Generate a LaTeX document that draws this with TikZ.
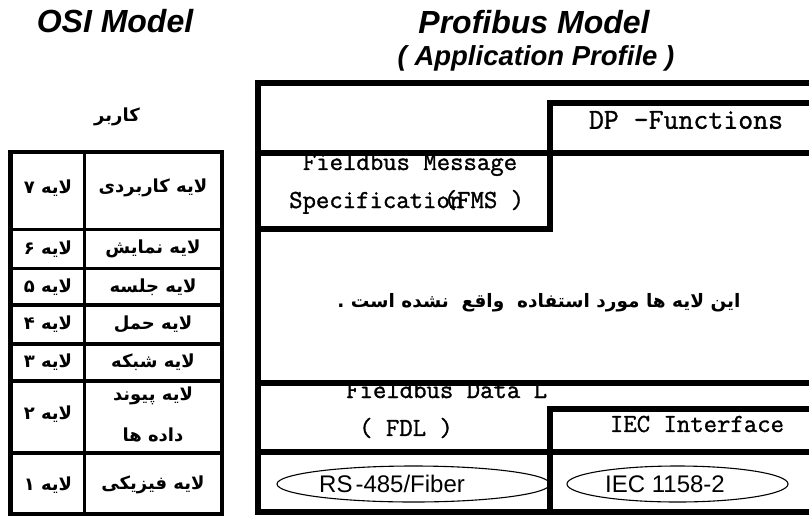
\documentclass[tikz,border=0pt]{standalone}
\usepackage{fontspec}
\setmainfont{Liberation Sans}
\newfontfamily\cour[RawFeature={embolden=1.2}]{Latin Modern Mono}
\newfontfamily\fa[Script=Arabic]{DejaVu Sans}
\TeXXeTstate=1
\usetikzlibrary{shapes.geometric}

\begin{document}
\begin{tikzpicture}[x=1pt,y=-1pt,
  title/.style={font=\bfseries\itshape\fontsize{32}{36}\selectfont, inner sep=0pt},
  subtitle/.style={font=\bfseries\itshape\fontsize{27.5}{30}\selectfont, inner sep=0pt},
  fatext/.style={font=\fa\bfseries\fontsize{18}{22}\selectfont, inner sep=0pt},
  mono/.style={font=\cour\fontsize{26}{30}\selectfont, inner sep=0pt},
  phystext/.style={font=\fontsize{24}{28}\selectfont, inner sep=0pt},
  osiouter/.style={line width=4.5pt},
  osiinner/.style={line width=3.5pt},
  frameline/.style={line width=6pt, line cap=rect},
  medium/.style={ellipse, draw, line width=1.1pt, inner sep=0pt, minimum height=36pt}
]
\useasboundingbox (0,0) rectangle (809,515);

% ---------- titles ----------
\node[title] (osititle) at (115,21) {OSI Model};
\node[title] (pbtitle) at (534,22) {Profibus Model};
\node[subtitle] (pbsub) at (536,58) {( Application Profile )};

% ---------- OSI layer table ----------
\node[fatext] (user) at (117,117) {\beginR کاربر\endR};

\draw[osiinner] (84.5,152) -- (84.5,514);
\foreach \yy in {229.5,268.5,305,344,381,453}
  \draw[osiinner] (10.5,\yy) -- (222,\yy);
\draw[osiouter] (10.5,152) rectangle (222,514);

\node[fatext] (n7) at (48,188) {\beginR لایه ۷\endR};
\node[fatext] (n6) at (48,249) {\beginR لایه ۶\endR};
\node[fatext] (n5) at (48,287) {\beginR لایه ۵\endR};
\node[fatext] (n4) at (48,324) {\beginR لایه ۴\endR};
\node[fatext] (n3) at (48,362) {\beginR لایه ۳\endR};
\node[fatext] (n2) at (48,414) {\beginR لایه ۲\endR};
\node[fatext] (n1) at (48,485) {\beginR لایه ۱\endR};

\node[fatext] (l7) at (153,188) {\beginR لایه کاربردی\endR};
\node[fatext] (l6) at (153,249) {\beginR لایه نمایش\endR};
\node[fatext] (l5) at (153,287) {\beginR لایه جلسه\endR};
\node[fatext] (l4) at (153,324) {\beginR لایه حمل\endR};
\node[fatext] (l3) at (153,362) {\beginR لایه شبکه\endR};
\node[fatext] (l2a) at (153,396) {\beginR لایه پیوند\endR};
\node[fatext] (l2b) at (153,435) {\beginR داده ها\endR};
\node[fatext] (l1) at (153,485) {\beginR لایه فیزیکی\endR};

% ---------- Profibus stack ----------
\begin{scope}
  \clip (260,386) rectangle (548,450);
  \node[mono, anchor=base west] (fdl1) at (346,398) {Fieldbus Data L};
\end{scope}

% outer frame (open to the right)
\draw[line width=6pt, line join=miter] (815,82.5) -- (257.5,82.5) -- (257.5,512) -- (815,512);
% DP functions box and FMS box
\draw[frameline] (815,102.5) -- (550,102.5) -- (550,229);
\draw[frameline] (257.5,152.5) -- (815,152.5);
\draw[frameline] (257.5,229) -- (550,229);
% data link layer and IEC interface
\draw[frameline] (257.5,383) -- (815,383);
\draw[frameline] (815,409) -- (550,409) -- (550,512);
\draw[frameline] (257.5,452) -- (815,452);

\node[mono, font=\cour\fontsize{29}{32}\selectfont] (dp) at (686,120) {DP -Functions};
\node[mono] (fms1) at (410,165) {Fieldbus Message};
\node[mono, anchor=base west] (fms2) at (289,208) {Specification\kern-19.5pt(FMS )};

\node[fatext, font=\fa\bfseries\fontsize{18.5}{22}\selectfont] (unused) at (539,303)
  {\beginR این لایه ها مورد استفاده\ \ واقع\ \ نشده است .\endR};

\node[mono] (fdl2) at (406,428) {( FDL )};
\node[mono] (iecif) at (697,424) {IEC Interface};

% physical media
\node[medium, minimum width=273pt] (rs) at (413.5,484) {};
\node[medium, minimum width=221pt] (iec) at (677.5,484) {};
\node[phystext, anchor=west] (rstext) at (319,484) {RS\kern3pt-485/Fiber};
\node[phystext, anchor=west] (iectext) at (605,484) {IEC 1158-2};
\end{tikzpicture}
\end{document}
